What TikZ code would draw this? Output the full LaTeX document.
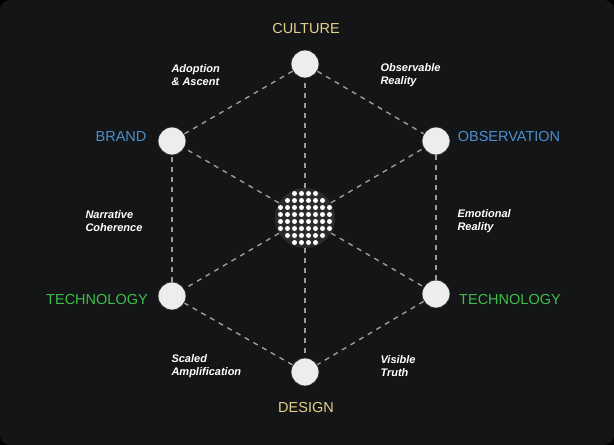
\documentclass[tikz,border=0pt]{standalone}
\usepackage{fontspec}
\setmainfont{Liberation Sans}
\usetikzlibrary{calc}

\definecolor{bgdark}{HTML}{141517}
\definecolor{hubgray}{HTML}{2A2B2D}
\definecolor{gold}{HTML}{E3D28C}
\definecolor{skyblue}{HTML}{4A8FD0}
\definecolor{techgreen}{HTML}{3DBF4B}
\definecolor{dashgray}{HTML}{9C9C9C}
\definecolor{nodegray}{HTML}{EDEDEE}

\begin{document}
\begin{tikzpicture}[x=1pt,y=-1pt,
	vertex/.style={circle,fill=nodegray,draw=black!85,line width=0.8pt,minimum size=28pt,inner sep=0pt},
	link/.style={draw=dashgray,line width=1.4pt,dash pattern=on 5pt off 5pt},
	heading/.style={font=\fontsize{14.5}{16}\selectfont},
	note/.style={font=\fontsize{11}{13}\selectfont\bfseries\itshape,text=white,align=left,anchor=west}]
		
		% card
		\fill[black] (0,0) rectangle (614,445);
		\fill[bgdark,rounded corners=10pt] (0,0) rectangle (614,445);
		
		% hub and corners
		\node[circle,fill=hubgray,minimum size=60pt,inner sep=0pt] (hub) at (305,218) {};
		\node[vertex] (culture) at (305,64) {};
		\node[vertex] (brand) at (172,141) {};
		\node[vertex] (observ) at (436,141) {};
		\node[vertex] (techl) at (172,296) {};
		\node[vertex] (techr) at (436,294) {};
		\node[vertex] (design) at (305,372) {};
		
		% dashed links
		\foreach \a/\b in {culture/observ,observ/techr,techr/design,design/techl,techl/brand,brand/culture}
			\draw[link] (\a) -- (\b);
		\foreach \v in {culture,brand,observ,techl,techr,design}
			\draw[link] (hub) -- (\v);
		
		% dot grid
		\foreach \j/\n in {-3.5/1.5,-2.5/2.5,-1.5/3.5,-0.5/3.5,0.5/3.5,1.5/3.5,2.5/2.5,3.5/1.5}
			\foreach \i in {-\n,...,\n}
				\fill[white] ($(hub)+(\i*7,\j*7)$) circle (2.5pt);
		
		% headings
		\node[heading,text=gold] (lblculture) at (306,29) {CULTURE};
		\node[heading,text=skyblue] (lblbrand) at (121,137) {BRAND};
		\node[heading,text=skyblue] (lblobserv) at (509,137) {OBSERVATION};
		\node[heading,text=techgreen] (lbltechl) at (97,300) {TECHNOLOGY};
		\node[heading,text=techgreen] (lbltechr) at (510,300) {TECHNOLOGY};
		\node[heading,text=gold] (lbldesign) at (306,408) {DESIGN};
		
		% edge notes
		\node[note] (adopt) at (168,75) {Adoption\\\& Ascent};
		\node[note] (observable) at (377,75) {Observable\\Reality};
		\node[note] (narrative) at (82,221) {Narrative\\Coherence};
		\node[note] (emotional) at (454,221) {Emotional\\Reality};
		\node[note] (scaled) at (168,366) {Scaled\\Amplification};
		\node[note] (visible) at (377,366) {Visible\\Truth};
		
	\end{tikzpicture}
\end{document}
